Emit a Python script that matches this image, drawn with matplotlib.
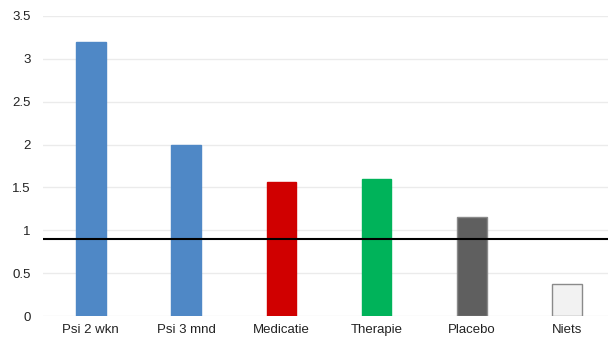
import matplotlib

matplotlib.use("Agg")
import matplotlib.pyplot as plt

categories = ["Psi 2 wkn", "Psi 3 mnd", "Medicatie", "Therapie", "Placebo", "Niets"]
values = [3.2, 2.0, 1.56, 1.6, 1.16, 0.37]
colors = ["#4F88C6", "#4F88C6", "#D00000", "#00B35A", "#5F5F5F", "#F2F2F2"]
edges = ["#4F88C6", "#4F88C6", "#D00000", "#00B35A", "#8A8A8A", "#8A8A8A"]
reference = 0.9
yticks = [0, 0.5, 1, 1.5, 2, 2.5, 3, 3.5]
ytick_labels = ["0", "0.5", "1", "1.5", "2", "2.5", "3", "3.5"]

plt.rcParams["font.family"] = ["Liberation Sans", "DejaVu Sans"]

fig = plt.figure(figsize=(6.08, 3.37), dpi=100)
ax = fig.add_axes([0.071, 0.062, 0.929, 0.891])

x = list(range(len(categories)))
ax.bar(x, values, width=0.31, color=colors, edgecolor=edges, linewidth=1, zorder=2)
ax.axhline(reference, color="black", linewidth=1.5, zorder=3)

ax.set_xlim(-0.5, 5.43)
ax.set_ylim(0, 3.5)
ax.set_yticks(yticks)
ax.set_yticklabels(ytick_labels)
ax.set_xticks(x)
ax.set_xticklabels(categories)
ax.grid(axis="y", color="#EBEBEB", linewidth=1, zorder=0)
for s in ax.spines.values():
    s.set_visible(False)
ax.tick_params(length=0, labelsize=9.5, colors="#222222")
ax.tick_params(axis="y", pad=9)
ax.tick_params(axis="x", pad=6)

fig.savefig("out.png", dpi=100)
